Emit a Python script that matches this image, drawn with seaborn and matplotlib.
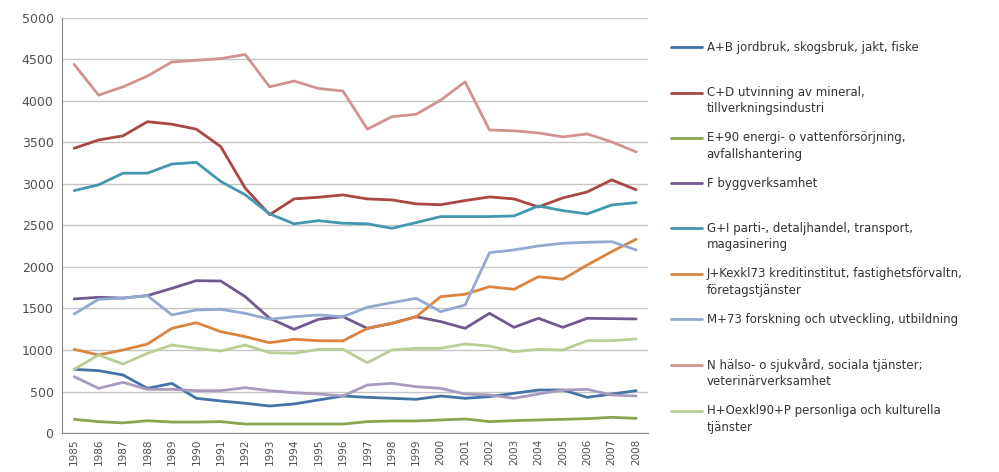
import pandas as pd
import seaborn as sns
import matplotlib.pyplot as plt
from matplotlib.ticker import FixedLocator

# Värden, 1985-2008
years = list(range(1985, 2009))

ab = [767, 751, 699, 538, 598, 418, 386, 358, 325, 350, 398, 446, 430, 418, 406, 446, 418, 438, 478, 518, 518, 430, 470, 510]
cd = [3430, 3530, 3580, 3750, 3720, 3660, 3450, 2950, 2630, 2820, 2840, 2868, 2820, 2808, 2760, 2750, 2800, 2844, 2820, 2723, 2832, 2904, 3049, 2930]
e90 = [165, 137, 122, 148, 132, 132, 137, 108, 108, 108, 108, 108, 137, 145, 145, 157, 169, 137, 149, 157, 165, 173, 189, 177]
f = [1615, 1635, 1625, 1655, 1743, 1835, 1831, 1643, 1382, 1249, 1370, 1401, 1261, 1320, 1401, 1342, 1261, 1442, 1273, 1382, 1273, 1382, 1378, 1374]
gi = [2920, 2990, 3130, 3130, 3240, 3260, 3030, 2870, 2640, 2520, 2558, 2527, 2520, 2466, 2535, 2607, 2607, 2607, 2615, 2735, 2679, 2639, 2747, 2775]
jk = [1008, 940, 1000, 1072, 1261, 1329, 1221, 1161, 1088, 1129, 1112, 1110, 1261, 1322, 1401, 1643, 1671, 1763, 1731, 1883, 1852, 2024, 2185, 2334]
m73 = [1434, 1611, 1625, 1655, 1422, 1482, 1490, 1442, 1370, 1401, 1422, 1401, 1515, 1570, 1623, 1462, 1542, 2173, 2205, 2253, 2286, 2298, 2305, 2205]
n = [4440, 4070, 4170, 4300, 4470, 4490, 4510, 4560, 4170, 4240, 4150, 4120, 3660, 3810, 3840, 4010, 4230, 3650, 3640, 3615, 3567, 3603, 3507, 3386]
ho = [767, 940, 831, 960, 1060, 1020, 988, 1060, 968, 960, 1008, 1008, 847, 1000, 1020, 1020, 1072, 1048, 980, 1008, 1000, 1112, 1112, 1133]
ovrig = [679, 538, 610, 526, 526, 510, 510, 546, 510, 486, 470, 446, 578, 598, 558, 538, 470, 458, 418, 470, 518, 526, 458, 446]

labels = [
    "A+B jordbruk, skogsbruk, jakt, fiske",
    "C+D utvinning av mineral,\ntillverkningsindustri",
    "E+90 energi- o vattenförsörjning,\navfallshantering",
    "F byggverksamhet",
    "G+I parti-, detaljhandel, transport,\nmagasinering",
    "J+Kexkl73 kreditinstitut, fastighetsförvaltn,\nföretagstjänster",
    "M+73 forskning och utveckling, utbildning",
    "N hälso- o sjukvård, sociala tjänster;\nveterinärverksamhet",
    "H+Oexkl90+P personliga och kulturella\ntjänster",
    "övrigt",
]
series = [ab, cd, e90, f, gi, jk, m73, n, ho, ovrig]
colors = ["#4572A7", "#AA4643", "#89A54E", "#71588F", "#4198AF",
          "#DB843D", "#93A9CF", "#D19392", "#B9CD96", "#A99BBD"]

df = pd.concat([pd.DataFrame({"år": years, "värde": v, "bransch": lab})
                for lab, v in zip(labels, series)], ignore_index=True)

sns.set_style("white")
plt.rcParams['font.family'] = ['DejaVu Sans']

fig = plt.figure(figsize=(9.99, 4.72), dpi=100)
ax = fig.add_axes([0.062, 0.0826, 0.587, 0.8794])

sns.lineplot(data=df, x="år", y="värde", hue="bransch", hue_order=labels,
             palette=dict(zip(labels, colors)), linewidth=2, legend=False, ax=ax)

ax.set_xlim(1984.5, 2008.5)
ax.set_ylim(0, 5000)
ax.set_yticks(range(0, 5001, 500))
ax.set_xticks(years)
ax.set_xticklabels([str(y) for y in years], rotation=90, fontsize=7.5, color="#505050")
ax.xaxis.set_minor_locator(FixedLocator([y - 0.5 for y in years] + [2008.5]))
ax.tick_params(axis="x", which="major", length=0, pad=4)
ax.tick_params(axis="x", which="minor", length=4, color="#868686", width=0.8)
ax.tick_params(axis="y", length=4, color="#868686", width=0.8, labelsize=9,
               labelcolor="#505050", pad=2)
ax.grid(axis="y", color="#c6c6c6", linewidth=1)
ax.set_axisbelow(True)
for s in ["top", "right"]:
    ax.spines[s].set_visible(False)
for s in ["left", "bottom"]:
    ax.spines[s].set_color("#868686")
    ax.spines[s].set_linewidth(0.8)
ax.set_xlabel("")
ax.set_ylabel("")

# förklaring utan den sista serien (som i originalet)
lines = ax.get_lines()[:9]
leg_labels = [lab if "\n" in lab else lab + "\n " for lab in labels[:9]]
leg = fig.legend(lines, leg_labels, loc="upper left", bbox_to_anchor=(0.672, 0.914),
                 frameon=False, fontsize=8.5, handlelength=2.6, handletextpad=0.4,
                 labelspacing=1.34, borderpad=0, borderaxespad=0)
for t in leg.get_texts():
    t.set_color("#333333")
    t.set_linespacing(1.35)
for ln in leg.get_lines():
    ln.set_linewidth(2)
    ln.set_ydata([y + 6.5 for y in ln.get_ydata()])

fig.savefig("out.png", dpi=100)
